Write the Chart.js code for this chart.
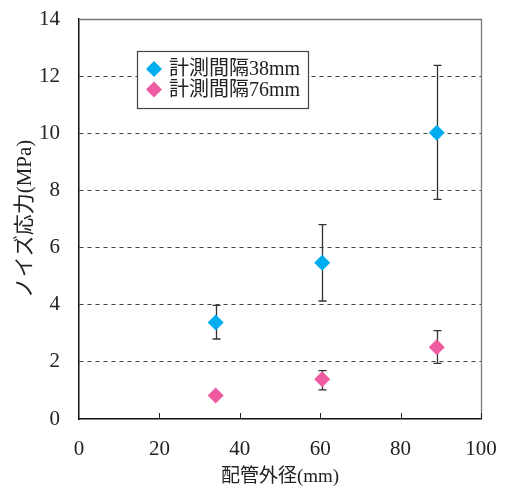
<!DOCTYPE html>
<html>
<head>
<meta charset="utf-8">
<script src="https://cdn.jsdelivr.net/npm/chart.js@4/dist/chart.umd.min.js"></script>
<style>
  html, body { margin: 0; padding: 0; background: #fff; }
  #wrap { width: 506px; height: 488px; }
</style>
</head>
<body>
<div id="wrap"><canvas id="c" width="506" height="488"></canvas></div>
<script>
// Outer pipe diameter (mm)
const pipeDiameters = [34, 60.5, 89];

// Noise stress (MPa), 38 mm gauge spacing: mean and error-bar limits
const stress38 = [3.38, 5.47, 10.02];
const stress38Upper = [3.98, 6.80, 12.38];
const stress38Lower = [2.80, 4.13, 7.69];

// Noise stress (MPa), 76 mm gauge spacing: mean and error-bar limits
const stress76 = [0.82, 1.39, 2.51];
const stress76Upper = [0.88, 1.69, 3.09];
const stress76Lower = [0.77, 1.02, 1.95];

const seriesLabels = ['計測間隔38mm', '計測間隔76mm'];
const xTickValues = [0, 20, 40, 60, 80, 100];
const yTickValues = [0, 2, 4, 6, 8, 10, 12, 14];

const BLUE = '#00aeef';
const PINK = '#ef5ba1';
const FONT = "'Liberation Serif', 'Noto Sans CJK JP', serif";
const CJK_FONT = "'Liberation Serif', 'Noto Sans CJK JP', serif";

const toPoints = (ys) => pipeDiameters.map((x, i) => ({ x: x, y: ys[i] }));

const errorRanges = [
  { upper: stress38Upper, lower: stress38Lower },
  { upper: stress76Upper, lower: stress76Lower }
];

// Vertical error bars with caps, drawn under the markers
const errorBarPlugin = {
  id: 'errorBars',
  beforeDatasetsDraw(chart) {
    const { ctx, scales: { x, y } } = chart;
    ctx.save();
    ctx.strokeStyle = '#333';
    ctx.lineWidth = 1.3;
    errorRanges.forEach((r) => {
      pipeDiameters.forEach((d, i) => {
        const px = Math.round(x.getPixelForValue(d)) + 0.5;
        const yHi = y.getPixelForValue(r.upper[i]);
        const yLo = y.getPixelForValue(r.lower[i]);
        ctx.beginPath();
        ctx.moveTo(px, yHi); ctx.lineTo(px, yLo);
        ctx.moveTo(px - 4, yHi); ctx.lineTo(px + 4, yHi);
        ctx.moveTo(px - 4, yLo); ctx.lineTo(px + 4, yLo);
        ctx.stroke();
      });
    });
    ctx.restore();
  }
};

// Top/right frame, inward x ticks and the boxed legend
const framePlugin = {
  id: 'frameAndLegend',
  afterDraw(chart) {
    const { ctx, chartArea: a, scales: { x } } = chart;
    ctx.save();
    // top and right edges of the plot frame
    ctx.strokeStyle = '#777';
    ctx.lineWidth = 1.3;
    ctx.beginPath();
    ctx.moveTo(a.left, a.top + 0.5); ctx.lineTo(a.right + 0.5, a.top + 0.5);
    ctx.lineTo(a.right + 0.5, a.bottom);
    ctx.stroke();
    // inward tick marks on the x axis
    ctx.strokeStyle = '#222';
    ctx.lineWidth = 1;
    ctx.beginPath();
    xTickValues.slice(1).forEach((v) => {
      const px = Math.round(x.getPixelForValue(v)) + 0.5;
      ctx.moveTo(px, a.bottom); ctx.lineTo(px, a.bottom - 6);
    });
    ctx.stroke();

    // legend box
    const bx = a.left + 58, by = a.top + 32, bw = 171, bh = 57;
    ctx.fillStyle = '#fff';
    ctx.fillRect(bx, by, bw, bh);
    ctx.strokeStyle = '#444';
    ctx.lineWidth = 1.2;
    ctx.strokeRect(bx + 0.5, by + 0.5, bw, bh);
    const colors = [BLUE, PINK];
    seriesLabels.forEach((label, i) => {
      const cy = by + 18 + i * 20.5;
      const cx = bx + 17;
      const r = 8;
      ctx.fillStyle = colors[i];
      ctx.beginPath();
      ctx.moveTo(cx, cy - r); ctx.lineTo(cx + r, cy);
      ctx.lineTo(cx, cy + r); ctx.lineTo(cx - r, cy);
      ctx.closePath();
      ctx.fill();
      ctx.fillStyle = '#222';
      ctx.font = '20px ' + CJK_FONT;
      ctx.textAlign = 'left';
      ctx.textBaseline = 'middle';
      ctx.fillText(label, bx + 32, cy + 1);
    });
    ctx.restore();
  }
};

new Chart(document.getElementById('c'), {
  type: 'scatter',
  data: {
    datasets: [
      {
        label: seriesLabels[0],
        data: toPoints(stress38),
        pointStyle: 'rectRot',
        pointRadius: 8,
        pointHoverRadius: 8,
        backgroundColor: BLUE,
        borderColor: BLUE,
        borderWidth: 0
      },
      {
        label: seriesLabels[1],
        data: toPoints(stress76),
        pointStyle: 'rectRot',
        pointRadius: 8,
        pointHoverRadius: 8,
        backgroundColor: PINK,
        borderColor: PINK,
        borderWidth: 0
      }
    ]
  },
  options: {
    responsive: false,
    animation: false,
    events: [],
    layout: { padding: { left: 0, right: 25, top: 19, bottom: 0 } },
    plugins: {
      legend: { display: false },
      tooltip: { enabled: false }
    },
    scales: {
      x: {
        type: 'linear',
        min: 0,
        max: 100,
        afterBuildTicks: (s) => { s.ticks = xTickValues.map((v) => ({ value: v })); },
        afterFit: (s) => { s.height = 69; s.paddingLeft = 0; s.paddingRight = 0; },
        grid: { display: false, drawTicks: false },
        border: { display: true, color: '#111', width: 1.5 },
        ticks: {
          padding: 18,
          color: '#222',
          font: { family: FONT, size: 21 }
        },
        title: {
          display: true,
          text: '配管外径(mm)',
          color: '#222',
          font: { family: CJK_FONT, size: 19 },
          padding: { top: 0, bottom: 0 }
        }
      },
      y: {
        type: 'linear',
        min: 0,
        max: 14,
        afterBuildTicks: (s) => { s.ticks = yTickValues.map((v) => ({ value: v })); },
        afterFit: (s) => { s.width = 79; s.paddingTop = 0; s.paddingBottom = 0; },
        grid: {
          drawTicks: false,
          lineWidth: 1,
          color: (c) => (c.tick && (c.tick.value === 0 || c.tick.value === 14)) ? 'rgba(0,0,0,0)' : '#444'
        },
        border: { display: true, color: '#111', width: 1.5, dash: [4, 4] },
        ticks: {
          padding: 19,
          color: '#222',
          font: { family: FONT, size: 21 }
        },
        title: {
          display: true,
          text: 'ノイズ応力(MPa)',
          color: '#222',
          font: { family: CJK_FONT, size: 21 },
          padding: { top: 13, bottom: 0 }
        }
      }
    }
  },
  plugins: [errorBarPlugin, framePlugin]
});
</script>
</body>
</html>
